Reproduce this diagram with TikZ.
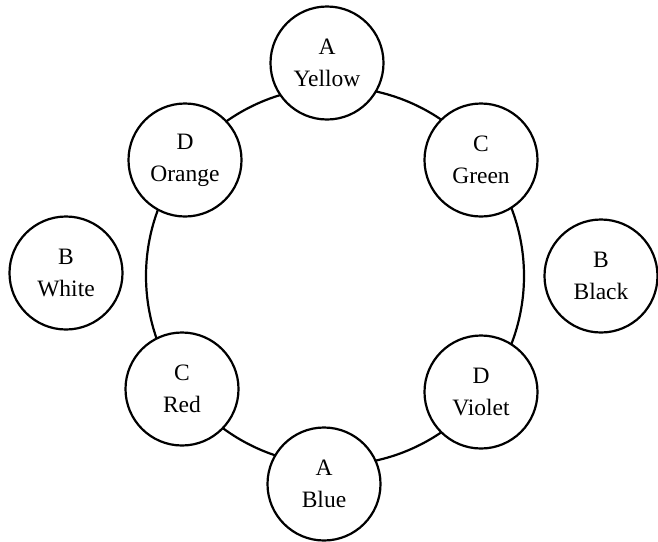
\documentclass[tikz,border=0pt]{standalone}
\usepackage{fontspec}
\setmainfont{Liberation Serif}
\begin{document}
\begin{tikzpicture}[x=1pt,y=-1pt,
  colornode/.style={circle,draw=black,fill=white,line width=2.2pt,minimum size=113pt,inner sep=0pt,
    align=center,font=\fontsize{23.5}{32}\selectfont},
  ringline/.style={draw=black,line width=2.2pt}]
\useasboundingbox (0,0) rectangle (658,541);
\coordinate (ring) at (335,276);
\draw[ringline] (ring) circle[radius=189pt];
\node[colornode] (yellow) at (327,63) {A\\Yellow};
\node[colornode] (green) at (481,160) {C\\Green};
\node[colornode] (orange) at (185,160) {D\\Orange};
\node[colornode] (white) at (66,273) {B\\White};
\node[colornode] (black) at (601,276) {B\\Black};
\node[colornode] (red) at (182,389) {C\\Red};
\node[colornode] (violet) at (481,392) {D\\Violet};
\node[colornode] (blue) at (324,484) {A\\Blue};
\end{tikzpicture}
\end{document}
